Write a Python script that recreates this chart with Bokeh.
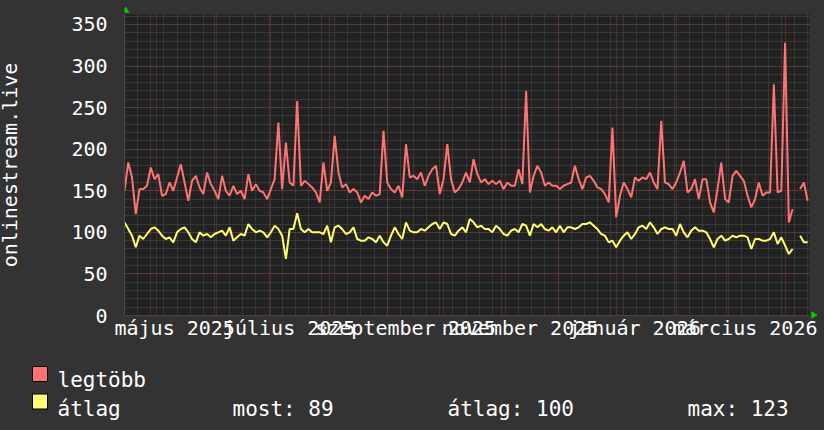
import numpy as np
import pandas as pd
from bokeh.plotting import figure
from bokeh.layouts import column
from bokeh.models import FixedTicker, Range1d, BoxAnnotation
from bokeh.core.properties import value
from bokeh.embed import file_html
from bokeh.resources import INLINE

# ---------------- data ----------------
start_date = "2025-04-14"
step_days = 2

legtobb = [
    150, 184, 166, 122, 152, 152, 156, 178, 164, 170, 144, 146, 160, 150, 166, 182, 160, 138, 162, 168,
    154, 146, 172, 158, 150, 140, 168, 150, 144, 156, 146,
    150, 140, 170, 150, 158, 150, 148, 140, 152, 164, 232, 152, 208, 160, 156, 258, 156, 162, 158, 154,
    148, 136, 184, 150, 160, 216, 172, 154, 158, 148, 152,
    148, 136, 144, 140, 148, 144, 146, 222, 160, 152, 148, 156, 142, 206, 166, 168, 164, 172, 156, 168,
    176, 180, 146, 164, 206, 164, 148, 152, 160, 172,
    160, 188, 170, 160, 164, 158, 162, 158, 162, 152, 160, 156, 156, 176, 158, 270, 148, 168, 180, 172,
    156, 160, 156, 156, 152, 156, 158, 160, 180, 164,
    152, 166, 168, 162, 154, 152, 146, 136, 226, 118, 144, 160, 152, 142, 166, 162, 166, 164, 172, 160,
    152, 234, 160, 158, 152, 160, 172, 186, 148, 152, 164,
    140, 164, 164, 136, 124, 152, 184, 140, 136, 168, 174, 168, 162, 144, 130, 140, 160, 144, 148, 148,
    278, 148, 150, 328, 112, 128, None, 152, 160, 138,
]

atlag = [
    112, 104, 96, 82, 96, 92, 98, 104, 106, 102, 96, 92, 94, 88, 100, 104, 106, 100, 92, 88,
    100, 96, 98, 94, 98, 100, 102, 96, 106, 90, 94,
    98, 96, 110, 104, 100, 102, 100, 94, 100, 108, 104, 96, 68, 104, 104, 123, 104, 100, 104, 100,
    100, 100, 98, 108, 88, 106, 108, 104, 98, 100, 106,
    92, 90, 90, 94, 92, 88, 96, 88, 84, 96, 106, 98, 92, 112, 102, 100, 100, 104, 102, 106,
    110, 112, 104, 112, 110, 98, 96, 102, 106, 100,
    116, 112, 106, 108, 104, 104, 100, 108, 104, 98, 96, 102, 104, 100, 110, 108, 96, 110, 106, 110,
    104, 102, 106, 100, 108, 100, 106, 106, 104, 106,
    110, 110, 112, 108, 104, 98, 96, 88, 90, 82, 90, 96, 100, 92, 98, 106, 108, 104, 112, 106,
    98, 104, 106, 104, 104, 96, 110, 100, 94, 102, 106,
    102, 102, 100, 92, 82, 92, 96, 90, 92, 96, 94, 96, 96, 94, 80, 92, 92, 90, 90, 92,
    100, 86, 94, 84, 74, 80, None, 96, 88, 88,
]

y_ticks = [0, 50, 100, 150, 200, 250, 300, 350]
y_max = 362
x_label_months = ["2025-05-01", "2025-07-01", "2025-09-01", "2025-11-01", "2026-01-01", "2026-03-01"]
x_label_texts = ["május 2025", "július 2025", "szeptember 2025", "november 2025", "január 2026", "március 2026"]

legend_names = ["legtöbb", "átlag"]
stat_texts = ["most: 89", "átlag: 100", "max: 123"]
axis_title = "onlinestream.live"

# ---------------- helpers ----------------
def ms(d):
    return int(pd.Timestamp(d).value // 10**6)

DAY = 86400000
dates = pd.Timestamp(start_date) + pd.to_timedelta(np.arange(len(legtobb)) * step_days, unit="D")
red = np.array([np.nan if v is None else v for v in legtobb], dtype=float)
yel = np.array([np.nan if v is None else v for v in atlag], dtype=float)

x0 = ms("2025-04-14")
x1 = ms("2026-04-14")
month_starts = [ms(d) for d in pd.date_range("2025-05-01", "2026-04-01", freq="MS")]
mondays = [ms(d) for d in pd.date_range("2025-04-14", "2026-04-14", freq="7D")]
label_shift = pd.Timedelta(hours=234)          # labels sit a bit right of the month line
label_ticks = [ms(pd.Timestamp(d) + label_shift) for d in x_label_months]

FONT = "DejaVu Sans Mono"
BG = "#333333"
PLOT_BG = "#222222"
RED = "#ff7373"
YEL = "#ffff6e"
SHIFT = 6            # canvas is shifted 6px left on the page (see template)
W = 830
H_MAIN = 350
H_LEG = 80

# plot area: page x 124..809 (685 px = 365 days), y 14..315 (301 px = 0..362)
# the frame is a little larger (top, bottom, right) so that the axis arrows fit
px_per_day = 685 / 365
px_per_unit = 301 / y_max
extra_top = 8
extra_bottom = 8
extra_right = 8
xr_end = x1 + extra_right / px_per_day * DAY
yr_end = y_max + extra_top / px_per_unit
yr_start = -extra_bottom / px_per_unit

p = figure(width=W, height=H_MAIN, x_axis_type="datetime", output_backend="svg",
           toolbar_location=None, x_range=Range1d(x0, xr_end), y_range=Range1d(yr_start, yr_end),
           background_fill_color=BG, border_fill_color=BG, outline_line_color=None,
           min_border_left=130, min_border_right=15 - extra_right,
           min_border_top=14 - extra_top, min_border_bottom=35 - extra_bottom)
p.frame_align = False

# dark plotting area
p.add_layout(BoxAnnotation(left=x0, right=x1, bottom=0, top=y_max, fill_color=PLOT_BG, fill_alpha=1,
                           line_color=None, level="image"))

# grids
p.xgrid.ticker = FixedTicker(ticks=month_starts, minor_ticks=mondays)
p.ygrid.ticker = FixedTicker(ticks=y_ticks, minor_ticks=list(range(0, 361, 10)))
p.xgrid.bounds = (x0, x1)
p.ygrid.bounds = (0, y_max)
if "cross_bounds" in p.xgrid.properties():
    p.xgrid.cross_bounds = (0, y_max)
    p.ygrid.cross_bounds = (x0, x1)
for g in (p.xgrid, p.ygrid):
    g.grid_line_color = "#7a3a3a"
    g.grid_line_dash = "1 1"
    g.grid_line_width = 1
    g.minor_grid_line_color = "#4c4c4c"
    g.minor_grid_line_dash = "1 1"
    g.minor_grid_line_width = 1

# x axis (its line sits below the plotting area, so it is hidden)
xa = p.xaxis[0]
xa.ticker = FixedTicker(ticks=label_ticks)
xa.major_label_overrides = {t: s for t, s in zip(label_ticks, x_label_texts)}
xa.bounds = (x0, x1)
xa.major_tick_line_color = None
xa.minor_tick_line_color = None
xa.major_tick_out = 0
xa.major_tick_in = 0
xa.minor_tick_out = 0
xa.axis_line_color = None
xa.major_label_text_font = FONT
xa.major_label_text_font_size = "20px"
xa.major_label_text_color = "#ffffff"
xa.major_label_standoff = -extra_bottom

# y axis
ya = p.yaxis[0]
ya.ticker = FixedTicker(ticks=y_ticks)
ya.bounds = (0, y_max)
ya.major_tick_line_color = None
ya.minor_tick_line_color = None
ya.major_tick_out = 0
ya.major_tick_in = 0
ya.minor_tick_out = 0
ya.axis_line_color = "#4a4a4a"
ya.major_label_text_font = FONT
ya.major_label_text_font_size = "20px"
ya.major_label_text_color = "#ffffff"
ya.major_label_standoff = 17
ya.axis_label = axis_title
ya.axis_label_text_font = FONT
ya.axis_label_text_font_size = "20px"
ya.axis_label_text_font_style = "normal"
ya.axis_label_text_color = "#ffffff"
ya.axis_label_standoff = 46

# series
p.line(dates, red, line_color=RED, line_width=2)
p.line(dates, yel, line_color=YEL, line_width=2)

# green arrows at the axis ends
p.scatter(x=[x0 + 0.6 * DAY], y=[y_max + 4.0 / px_per_unit], marker="triangle", size=6,
          fill_color="#00cc00", line_color="#00cc00")
p.scatter(x=[x1 + 4.0 / px_per_day * DAY], y=[0.5 / px_per_unit], marker="triangle", size=6,
          angle=-np.pi / 2, fill_color="#00cc00", line_color="#00cc00")

# ---------------- legend strip (pixel coordinates) ----------------
q = figure(width=W, height=H_LEG, output_backend="svg", toolbar_location=None,
           x_range=Range1d(0, W), y_range=Range1d(H_LEG, 0),
           x_axis_location=None, y_axis_location=None,
           background_fill_color=BG, border_fill_color=BG, outline_line_color=None,
           min_border=0, min_border_left=0, min_border_right=0, min_border_top=0, min_border_bottom=0)
q.frame_align = False
q.xgrid.visible = False
q.ygrid.visible = False

def px(x):
    return x + SHIFT

def py(y):
    return y - H_MAIN

box_top = [366, 393.5]
base_y = [379.5, 408]
q.quad(left=[px(32), px(32)], right=[px(47), px(47)], top=[py(t) for t in box_top],
       bottom=[py(t + 15) for t in box_top], fill_color=[RED, YEL], line_color="#000000", line_width=1)
q.text(x=[px(57), px(57)], y=[py(b) for b in base_y], text=legend_names,
       text_font=value(FONT), text_font_size="21px", text_color="#ffffff",
       text_baseline="alphabetic", text_align="left")
q.text(x=[px(232), px(447), px(687)], y=[py(base_y[1])] * 3, text=stat_texts,
       text_font=value(FONT), text_font_size="21px", text_color="#ffffff",
       text_baseline="alphabetic", text_align="left")

layout = column(p, q, spacing=0)

tpl = ("{% block preamble %}<style>html {background:#333333; overflow:hidden;} "
       "html, body {padding:0 !important; overflow:hidden;} "
       "body {margin:0 0 0 -6px !important; background:#333333;}</style>{% endblock %}")
open("out.html", "w").write(file_html(layout, INLINE, template=tpl))
